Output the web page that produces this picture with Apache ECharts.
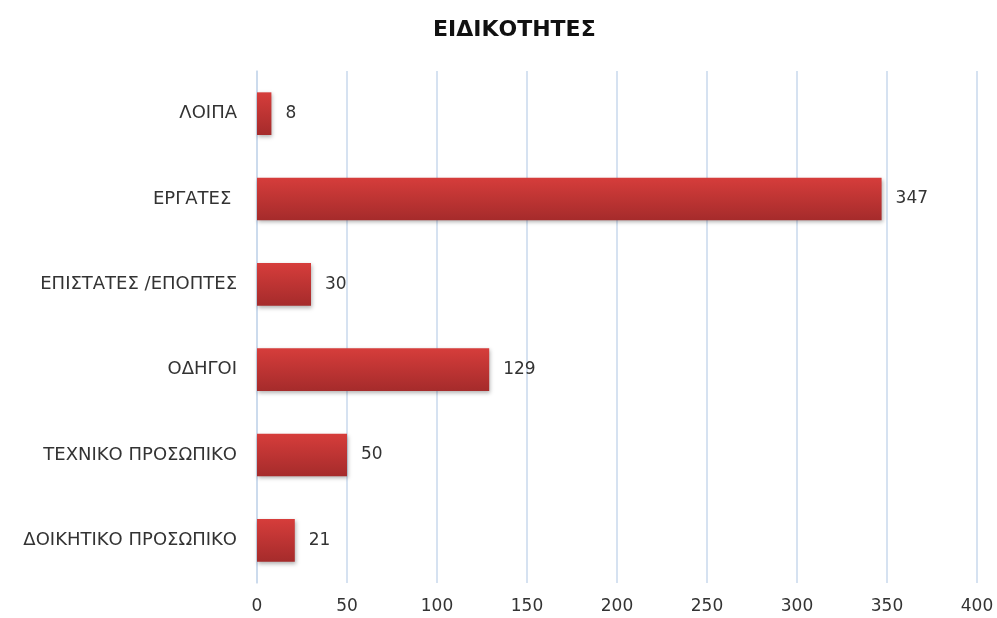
<!DOCTYPE html>
<html>
<head>
<meta charset="utf-8">
<script src="https://cdn.jsdelivr.net/npm/echarts@6/dist/echarts.min.js"></script>
<style>
  html, body { margin: 0; padding: 0; background: #fff; }
  #main { width: 997px; height: 618px; }
</style>
</head>
<body>
<div id="main"></div>
<script>
// categories from bottom to top
var categories = ['ΔΟΙΚΗΤΙΚΟ ΠΡΟΣΩΠΙΚΟ', 'ΤΕΧΝΙΚΟ ΠΡΟΣΩΠΙΚΟ', 'ΟΔΗΓΟΙ', 'ΕΠΙΣΤΑΤΕΣ /ΕΠΟΠΤΕΣ', 'ΕΡΓΑΤΕΣ ', 'ΛΟΙΠΑ'];
var values = [21, 50, 129, 30, 347, 8];
var xTicks = [0, 50, 100, 150, 200, 250, 300, 350, 400];

var font = 'DejaVu Sans';
var myChart = echarts.init(document.getElementById('main'));
myChart.setOption({
    animation: false,
    title: {
        text: 'ΕΙΔΙΚΟΤΗΤΕΣ',
        left: 428,
        top: 14,
        textStyle: { fontFamily: font, fontWeight: 'bold', fontSize: 22, color: '#111' }
    },
    grid: { left: 257, right: 20, top: 71, bottom: 35 },
    xAxis: {
        type: 'value',
        min: xTicks[0],
        max: xTicks[xTicks.length - 1],
        interval: 50,
        axisLine: { show: false },
        axisTick: { show: false },
        splitLine: { lineStyle: { color: '#c9d8ec', width: 1.5 } },
        axisLabel: { color: '#333', fontSize: 17, fontFamily: font, margin: 15 }
    },
    yAxis: {
        type: 'category',
        data: categories,
        axisLine: { show: true, lineStyle: { color: '#c9d8ec', width: 1.5 } },
        axisTick: { show: false },
        axisLabel: { color: '#333', fontSize: 18, fontFamily: font, margin: 20 }
    },
    series: [{
        type: 'bar',
        data: values,
        barWidth: '50%',
        itemStyle: {
            color: new echarts.graphic.LinearGradient(0, 0, 0, 1, [
                { offset: 0, color: '#d63d3b' },
                { offset: 1, color: '#a52b2b' }
            ]),
            shadowColor: 'rgba(0,0,0,0.3)',
            shadowBlur: 4,
            shadowOffsetX: 1,
            shadowOffsetY: 2
        },
        label: {
            show: true,
            position: 'right',
            distance: 14,
            color: '#333',
            fontSize: 17,
            fontFamily: font
        }
    }]
});
</script>
</body>
</html>
